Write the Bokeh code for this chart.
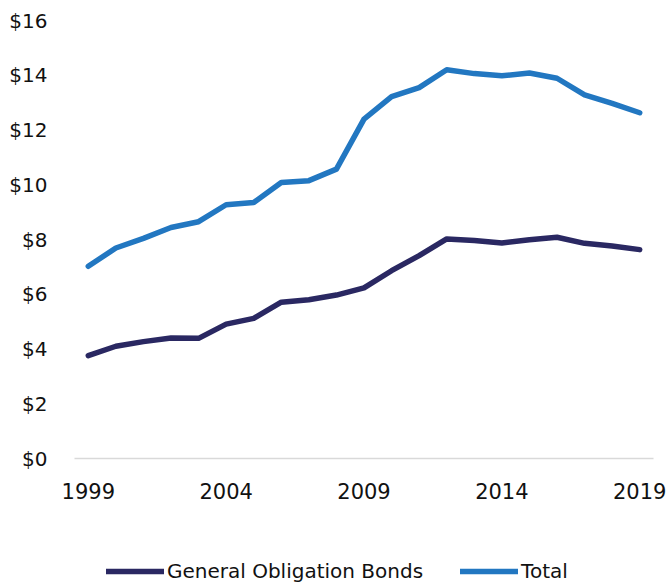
from bokeh.plotting import figure
from bokeh.layouts import column
from bokeh.models import Range1d, Legend, LegendItem, FixedTicker, NumeralTickFormatter
from bokeh.embed import file_html
from bokeh.resources import INLINE

years = list(range(1999, 2020))
go_bonds = [3.76, 4.10, 4.27, 4.40, 4.39, 4.91, 5.12, 5.71, 5.80, 5.97, 6.23,
            6.86, 7.41, 8.02, 7.96, 7.87, 7.99, 8.08, 7.86, 7.76, 7.63]
total = [7.02, 7.69, 8.04, 8.44, 8.65, 9.27, 9.35, 10.08, 10.15, 10.57, 12.40,
         13.22, 13.55, 14.20, 14.06, 13.98, 14.08, 13.89, 13.28, 12.97, 12.63]
x_ticks = [1999, 2004, 2009, 2014, 2019]
y_ticks = [0, 2, 4, 6, 8, 10, 12, 14, 16]
series_names = ["General Obligation Bonds", "Total"]
colors = ["#2a2862", "#2277c1"]

FONT = "DejaVu Sans"
TXT = "#111111"

p = figure(width=667, height=530, output_backend="svg", toolbar_location=None,
           x_range=Range1d(1998.5, 2019.5), y_range=Range1d(0, 16),
           min_border_left=74, min_border_right=14, min_border_top=20, min_border_bottom=72)
p.outline_line_color = None
p.grid.visible = False

p.line(years, go_bonds, line_color=colors[0], line_width=5.5, line_join="round", line_cap="round")
p.line(years, total, line_color=colors[1], line_width=5.5, line_join="round", line_cap="round")

xa = p.xaxis[0]
xa.ticker = FixedTicker(ticks=x_ticks)
xa.axis_line_color = "#d9d9d9"
xa.axis_line_width = 1.5
xa.major_tick_line_color = None
xa.minor_tick_line_color = None
xa.major_label_standoff = 18
xa.major_label_text_font = FONT
xa.major_label_text_font_size = "21px"
xa.major_label_text_color = TXT

ya = p.yaxis[0]
ya.ticker = FixedTicker(ticks=y_ticks)
ya.axis_line_color = None
ya.major_tick_line_color = None
ya.minor_tick_line_color = None
ya.major_label_standoff = 21
ya.formatter = NumeralTickFormatter(format="$0")
ya.major_label_text_font = FONT
ya.major_label_text_font_size = "20px"
ya.major_label_text_color = TXT

# legend strip below the chart (keys only, nothing plotted)
lg = figure(width=667, height=54, output_backend="svg", toolbar_location=None,
            x_range=Range1d(0, 1), y_range=Range1d(0, 1),
            x_axis_location=None, y_axis_location=None,
            min_border_left=0, min_border_right=0, min_border_top=0, min_border_bottom=0)
lg.grid.visible = False
lg.outline_line_color = None
nan = float("nan")
k_go = lg.line(x=[nan], y=[nan], line_color=colors[0], line_width=5.5, line_cap="round")
k_tot = lg.line(x=[nan], y=[nan], line_color=colors[1], line_width=5.5, line_cap="round")
legend = Legend(items=[LegendItem(label=series_names[0], renderers=[k_go]),
                       LegendItem(label=series_names[1], renderers=[k_tot])],
                orientation="horizontal", location=(32, 0),
                glyph_width=58, glyph_height=26, label_standoff=3, spacing=37,
                label_text_font=FONT, label_text_font_size="20px", label_text_color=TXT,
                border_line_color=None, background_fill_alpha=0, padding=0, margin=0)
lg.add_layout(legend, "center")

layout = column(p, lg, spacing=0)
open("out.html", "w").write(file_html(layout, INLINE))
